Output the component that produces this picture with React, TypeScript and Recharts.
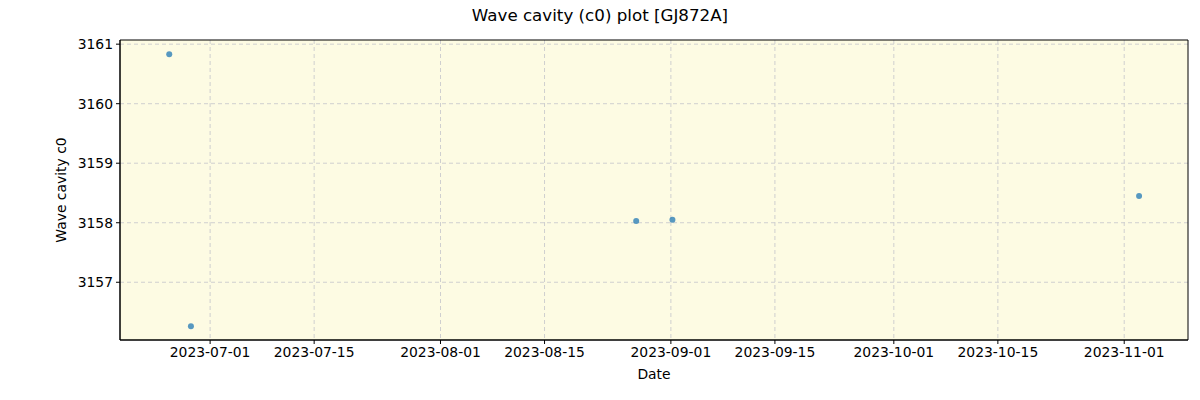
import { CartesianGrid, ReferenceArea, Scatter, ScatterChart, XAxis, YAxis, Label } from "recharts";

const obsDates = ["2023-06-25T12:00", "2023-06-28T10:00", "2023-08-27T08:00", "2023-09-01T05:00", "2023-11-03T00:00"];
const c0Values = [3160.83, 3156.26, 3158.03, 3158.05, 3158.45];

const xTickLabels = ["2023-07-01", "2023-07-15", "2023-08-01", "2023-08-15", "2023-09-01", "2023-09-15", "2023-10-01", "2023-10-15", "2023-11-01"];
const yTickValues = [3157, 3158, 3159, 3160, 3161];

const toMs = (s: string) => Date.parse(s.length === 10 ? s + "T00:00:00Z" : s + ":00Z");

const data = obsDates.map((d, i) => ({ t: toMs(d), v: c0Values[i] }));
const xTicks = xTickLabels.map(toMs);
const xDomain = [toMs("2023-06-18T21:00"), toMs("2023-11-09T14:00")];
const yDomain = [3156.03, 3161.07];

const theme = {
  font: "'DejaVu Sans', sans-serif",
  bg: "#fdfbe3",
  grid: "#cfcfcf",
  point: "#1f77b4",
  text: "#000",
};

const fmtDate = (ms: number) => new Date(ms).toISOString().slice(0, 10);

export default function App() {
  return (
    <div style={{ position: "absolute", left: 0, top: 0, width: 1200, height: 400, background: "#fff", fontFamily: theme.font }}>
      <div style={{ position: "absolute", top: 5, width: 1200, textAlign: "center", fontSize: 16.7, color: theme.text }}>
        Wave cavity (c0) plot [GJ872A]
      </div>
      <ScatterChart width={1200} height={400} margin={{ top: 40, right: 12, bottom: 30, left: 60 }}>
        <CartesianGrid
          fill={theme.bg}
          stroke={theme.grid}
          strokeDasharray="4 3"
          verticalValues={xTicks}
          horizontalValues={yTickValues}
        />
        <XAxis
          type="number"
          dataKey="t"
          domain={xDomain}
          ticks={xTicks}
          tickFormatter={fmtDate}
          allowDataOverflow
          height={30}
          stroke={theme.text}
          tick={{ fill: theme.text, fontSize: 13.9 }}
          tickSize={4}
          tickMargin={3}
        >
          <Label value="Date" position="insideBottom" offset={-9} fill={theme.text} fontSize={13.9} />
        </XAxis>
        <YAxis
          type="number"
          dataKey="v"
          domain={yDomain}
          ticks={yTickValues}
          allowDataOverflow
          width={60}
          stroke={theme.text}
          tick={{ fill: theme.text, fontSize: 13.9 }}
          tickSize={4}
          tickMargin={3}
        >
          <Label value="Wave cavity c0" angle={-90} position="insideLeft" offset={1} fill={theme.text} fontSize={13.9} style={{ textAnchor: "middle" }} />
        </YAxis>
        <ReferenceArea
          x1={xDomain[0]}
          x2={xDomain[1]}
          y1={yDomain[0]}
          y2={yDomain[1]}
          fill="none"
          fillOpacity={0}
          stroke="#000"
          strokeWidth={1}
          ifOverflow="visible"
        />
        <Scatter
          data={data}
          isAnimationActive={false}
          fill={theme.point}
          fillOpacity={0.75}
          shape={(p: any) => <circle cx={p.cx} cy={p.cy} r={3} fill={theme.point} fillOpacity={0.75} />}
        />
      </ScatterChart>
    </div>
  );
}
